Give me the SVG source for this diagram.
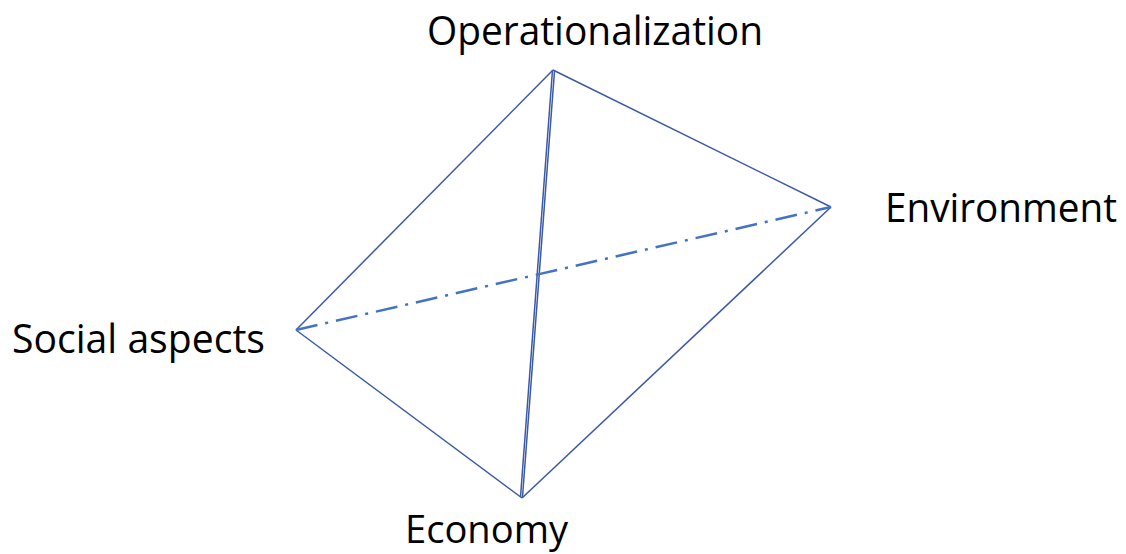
<svg xmlns="http://www.w3.org/2000/svg" width="1126" height="554" viewBox="0 0 1126 554">
<style>
.lbl{font-family:"Open Sans","Noto Sans","Liberation Sans",sans-serif;font-size:40px;fill:#000}
.edge{stroke:#3A5AA6;stroke-width:1.5;fill:none}
.dash{stroke:#4472C4;stroke-width:2.5;fill:none;stroke-dasharray:22 8 3 8}
</style>
<rect width="1126" height="554" fill="#fff"/>
<g id="connectors">
<line class="edge" x1="553" y1="70" x2="831" y2="207"/>
<line class="edge" x1="553" y1="70" x2="296" y2="330"/>
<line class="edge" x1="296" y1="330" x2="522" y2="498"/>
<line class="edge" x1="522" y1="498" x2="831" y2="207"/>
<line class="edge" x1="552.5" y1="70" x2="520.5" y2="497"/>
<line class="edge" x1="554.5" y1="71" x2="522.5" y2="497"/>
<line class="dash" x1="296" y1="330" x2="831" y2="207"/>
</g>
<g id="node-operationalization"><text class="lbl" x="427" y="45" textLength="336" lengthAdjust="spacingAndGlyphs">Operationalization</text></g>
<g id="node-environment"><text class="lbl" x="885" y="222" textLength="232" lengthAdjust="spacingAndGlyphs">Environment</text></g>
<g id="node-social"><text class="lbl" x="12" y="353" textLength="253" lengthAdjust="spacingAndGlyphs">Social aspects</text></g>
<g id="node-economy"><text class="lbl" x="405" y="543" style="font-size:38px" textLength="163" lengthAdjust="spacingAndGlyphs">Economy</text></g>
</svg>
